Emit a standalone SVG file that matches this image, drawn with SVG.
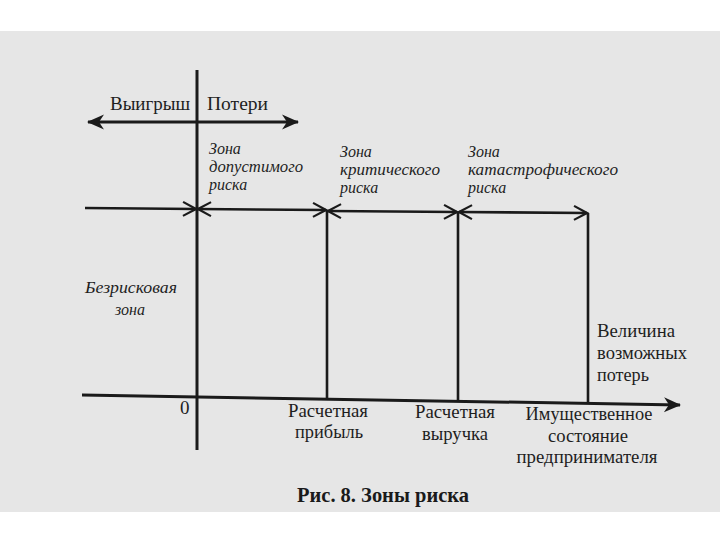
<svg xmlns="http://www.w3.org/2000/svg" width="720" height="540" viewBox="0 0 720 540">
<style>
.t{font-family:"Liberation Serif","Times New Roman",serif;font-size:19px;fill:#1e1e1e}
.i{font-family:"Liberation Serif","Times New Roman",serif;font-style:italic;font-size:16px;fill:#1e1e1e}
.cap{font-family:"Liberation Serif","Times New Roman",serif;font-weight:bold;font-size:21px;fill:#1a1a1a}
.ln{stroke:#1a1a1a;stroke-width:2.6;fill:none}
.ax{stroke:#1a1a1a;stroke-width:3;fill:none}
</style>
<defs>
<marker id="open" viewBox="-15 -9 17 18" refX="0" refY="0" markerWidth="17" markerHeight="18" markerUnits="userSpaceOnUse" orient="auto-start-reverse">
<path d="M-13,-7 L0,0 L-13,7" fill="none" stroke="#1a1a1a" stroke-width="2.2"/>
</marker>
<marker id="solid" viewBox="-18 -9 20 18" refX="0" refY="0" markerWidth="20" markerHeight="18" markerUnits="userSpaceOnUse" orient="auto-start-reverse">
<path d="M1,0 L-16,-7.5 L-11,0 L-16,7.5 z" fill="#1a1a1a"/>
</marker>
</defs>
<rect x="0" y="0" width="720" height="540" fill="#ffffff"/>
<rect x="0" y="31" width="720" height="481" fill="#e6e6e6"/>

<g id="connectors">
<path id="gain-loss-axis" class="ax" d="M88,122 L298,122" marker-start="url(#solid)" marker-end="url(#solid)"/>
<path id="vertical-axis" class="ax" d="M197,70 L197,450"/>
<path id="horizontal-axis" class="ax" d="M82,395 L680,405" marker-end="url(#solid)"/>
<path class="ln" d="M85,208 L196,209" marker-end="url(#open)"/>
<path class="ln" d="M198,209 L326,210" marker-start="url(#open)" marker-end="url(#open)"/>
<path class="ln" d="M328,211 L457,212" marker-start="url(#open)" marker-end="url(#open)"/>
<path class="ln" d="M459,212 L587,213" marker-start="url(#open)" marker-end="url(#open)"/>
<path class="ln" d="M327,210 L327,398"/>
<path class="ln" d="M458,212 L458,400"/>
<path class="ln" d="M588,213 L588,403"/>
</g>

<g id="gain"><text class="t" x="110" y="110" textLength="80" lengthAdjust="spacingAndGlyphs">Выигрыш</text></g>
<g id="losses"><text class="t" x="207" y="110" textLength="61" lengthAdjust="spacingAndGlyphs">Потери</text></g>

<g id="zone-acceptable">
<text class="i" x="209" y="154">Зона</text>
<text class="i" x="209" y="172" textLength="94" lengthAdjust="spacingAndGlyphs">допустимого</text>
<text class="i" x="209" y="190">риска</text>
</g>
<g id="zone-critical">
<text class="i" x="340" y="157">Зона</text>
<text class="i" x="340" y="175" textLength="100" lengthAdjust="spacingAndGlyphs">критического</text>
<text class="i" x="340" y="193">риска</text>
</g>
<g id="zone-catastrophic">
<text class="i" x="468" y="157">Зона</text>
<text class="i" x="468" y="175" textLength="150" lengthAdjust="spacingAndGlyphs">катастрофического</text>
<text class="i" x="468" y="193">риска</text>
</g>
<g id="riskless-zone">
<text class="i" x="85" y="293" textLength="92" lengthAdjust="spacingAndGlyphs">Безрисковая</text>
<text class="i" x="115" y="315">зона</text>
</g>
<g id="possible-losses">
<text class="t" x="597" y="337" textLength="78" lengthAdjust="spacingAndGlyphs">Величина</text>
<text class="t" x="597" y="359" textLength="90" lengthAdjust="spacingAndGlyphs">возможных</text>
<text class="t" x="597" y="381" textLength="52" lengthAdjust="spacingAndGlyphs">потерь</text>
</g>
<g id="zero"><text class="t" x="180" y="414">0</text></g>
<g id="estimated-profit">
<text class="t" x="328" y="417" text-anchor="middle" textLength="80" lengthAdjust="spacingAndGlyphs">Расчетная</text>
<text class="t" x="329" y="438" text-anchor="middle" textLength="68" lengthAdjust="spacingAndGlyphs">прибыль</text>
</g>
<g id="estimated-revenue">
<text class="t" x="455" y="418" text-anchor="middle" textLength="80" lengthAdjust="spacingAndGlyphs">Расчетная</text>
<text class="t" x="455" y="440" text-anchor="middle" textLength="66" lengthAdjust="spacingAndGlyphs">выручка</text>
</g>
<g id="property-state">
<text class="t" x="589" y="420" text-anchor="middle" textLength="127" lengthAdjust="spacingAndGlyphs">Имущественное</text>
<text class="t" x="588" y="442" text-anchor="middle" textLength="80" lengthAdjust="spacingAndGlyphs">состояние</text>
<text class="t" x="587" y="463" text-anchor="middle" textLength="141" lengthAdjust="spacingAndGlyphs">предпринимателя</text>
</g>
<g id="caption"><text class="cap" x="297" y="502" textLength="172" lengthAdjust="spacingAndGlyphs">Рис. 8. Зоны риска</text></g>
</svg>
